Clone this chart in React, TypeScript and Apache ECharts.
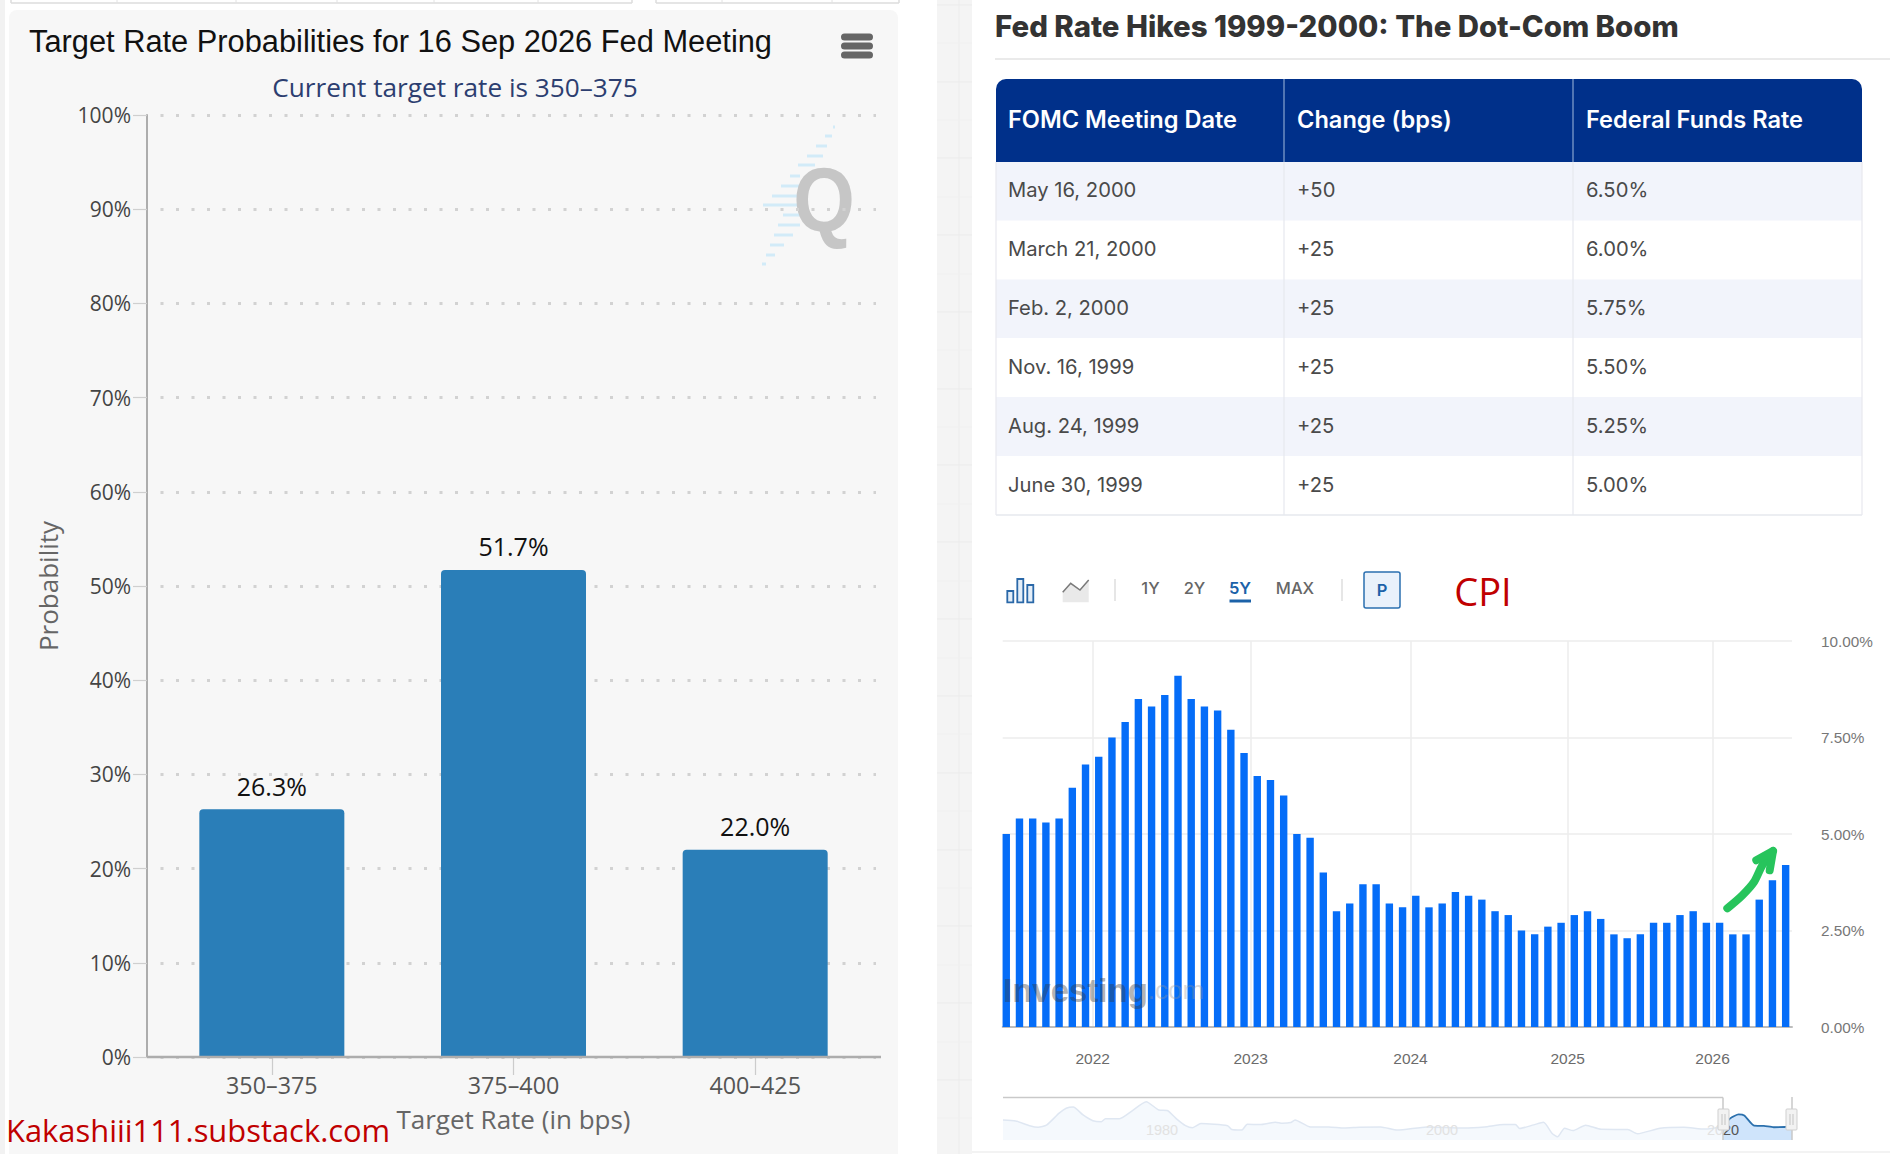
import React, { useEffect, useRef } from "react";
import * as echarts from "echarts";

// ---------- data ----------
const chartTitle = "Target Rate Probabilities for 16 Sep 2026 Fed Meeting";
const chartSubtitle = "Current target rate is 350–375";
const rateBuckets = ["350–375", "375–400", "400–425"];
const probabilities = [26.3, 51.7, 22.0];

const tableTitle = "Fed Rate Hikes 1999-2000: The Dot-Com Boom";
const tableHeaders = ["FOMC Meeting Date", "Change (bps)", "Federal Funds Rate"];
const meetingDates = ["May 16, 2000", "March 21, 2000", "Feb. 2, 2000", "Nov. 16, 1999", "Aug. 24, 1999", "June 30, 1999"];
const rateChanges = ["+50", "+25", "+25", "+25", "+25", "+25"];
const fundsRates = ["6.50%", "6.00%", "5.75%", "5.50%", "5.25%", "5.00%"];

const cpiValues = [
  5.0, 5.4, 5.4, 5.3, 5.4, 6.2, 6.8, 7.0, 7.5, 7.9,
  8.5, 8.3, 8.6, 9.1, 8.5, 8.3, 8.2, 7.7, 7.1, 6.5,
  6.4, 6.0, 5.0, 4.9, 4.0, 3.0, 3.2, 3.7, 3.7, 3.2,
  3.1, 3.4, 3.1, 3.2, 3.5, 3.4, 3.3, 3.0, 2.9, 2.5,
  2.4, 2.6, 2.7, 2.9, 3.0, 2.8, 2.4, 2.3, 2.4, 2.7,
  2.7, 2.9, 3.0, 2.7, 2.7, 2.4, 2.4, 3.3, 3.8, 4.2,
];
const cpiYearLabels = ["2022", "2023", "2024", "2025", "2026"];
const cpiYearSlots = [6.54, 18.5, 30.6, 42.5, 53.47];
const rangeButtons = ["1Y", "2Y", "5Y", "MAX"];

const historyAll: [number, number][] = [
  [1968.6, 7.7], [1969.5, 7.3], [1970.5, 5.5], [1971.1, 4.9], [1971.7, 5.7], [1972.6, 10.3], [1973.1, 12.2],
  [1973.6, 12.7], [1974.3, 9.6], [1975, 7.4], [1975.6, 7.0], [1975.9, 8.2], [1976.9, 8.2], [1977.8, 11.2],
  [1978.8, 14.7], [1979.7, 11.5], [1980.3, 11.3], [1981, 7.9], [1981.6, 5.5], [1982.1, 4.7], [1982.7, 6.3],
  [1984.6, 5.5], [1984.9, 4.0], [1985.6, 3.8], [1986, 6.0], [1986.9, 5.9], [1988, 6.8], [1988.5, 6.4],
  [1989.1, 6.7], [1989.4, 7.7], [1990.5, 5.0], [1991.8, 5.0], [1992.9, 4.6], [1994, 4.9], [1995.5, 5.0],
  [1996.7, 3.8], [1998.8, 5.0], [2001.4, 4.6], [2002.9, 5.0], [2004.3, 5.9], [2005.1, 5.9], [2005.4, 4.4],
  [2006.4, 5.8], [2007.1, 6.8], [2007.7, 2.6], [2008.1, 1.2], [2008.6, 4.5], [2009.2, 3.6], [2010.1, 5.7],
  [2011.2, 4.1], [2013.1, 4.0], [2013.8, 2.4], [2015.4, 4.5], [2017.1, 4.9], [2018.6, 4.2], [2019.9, 5.1],
];
const historySelected: [number, number][] = [
  [2019.9, 5.1], [2020.4, 8.3], [2021, 9.8], [2021.4, 9.4], [2022.1, 5.5], [2022.8, 5.4], [2023.5, 4.9], [2024.3, 5.0], [2024.8, 5.1],
];

// Q logo stripes: [x0, x1, y]
const logoStripes = [
  [833, 835, 127], [825, 832, 136], [816, 827, 146], [807, 823, 156], [798, 815, 165], [790, 800, 176],
  [781, 800, 186], [772, 800, 196], [763, 798, 205], [783, 800, 215], [778, 800, 225], [774, 793, 235],
  [770, 784, 245], [766, 775, 255], [762, 766, 264],
];
const topBoxDividers = [117, 236, 337, 434, 538, 722, 832];
const stripLinesY = [5, 43, 82, 120, 158, 197, 235, 274, 312, 350, 389, 427, 465, 504, 542, 581, 619, 658, 696, 734, 773, 811, 850, 888, 926, 965, 1003, 1042, 1080, 1118];

// ---------- fonts / colours ----------
const OPEN = '"Open Sans", sans-serif';
const ARIAL = '"Liberation Sans", Arial, sans-serif';
const INTER = 'Inter, sans-serif';
const RED = "#c00000";

const txt = (x: number, y: number, text: string, o: any = {}, z = 40) => ({
  type: "text",
  z,
  silent: true,
  x,
  y,
  style: {
    text,
    x: 0,
    y: 0,
    fill: o.fill ?? "#444",
    fontFamily: o.fontFamily ?? OPEN,
    fontSize: o.fontSize ?? 20,
    fontWeight: o.fontWeight ?? 400,
    textAlign: o.textAlign ?? "left",
    textVerticalAlign: "middle",
  },
  ...(o.scaleX ? { scaleX: o.scaleX } : {}),
});
const box = (x: number, y: number, width: number, height: number, fill: string, z = -5, r: any = 0, extra: any = {}) => ({
  type: "rect",
  z,
  silent: true,
  shape: { x, y, width, height, r },
  style: { fill, ...extra },
});
const seg = (x1: number, y1: number, x2: number, y2: number, stroke: string, lineWidth = 1, z = -4) => ({
  type: "line",
  z,
  silent: true,
  shape: { x1, y1, x2, y2 },
  style: { stroke, lineWidth },
});

function buildGraphic() {
  const g: any[] = [];
  // page furniture
  g.push(box(0, 0, 5, 1154, "#f2f2f2", -9));
  g.push(box(937, 0, 35, 1154, "#f4f4f4", -9));
  g.push(seg(959, 0, 959, 1154, "#ececec", 1, -8));
  stripLinesY.forEach((y, i) => g.push(seg(937, y, 972, y, i % 2 ? "#f0f0f0" : "#ebebeb", 1, -8)));
  g.push(box(9, 10, 889, 1144, "#f7f7f7", -7, [8, 8, 0, 0]));
  g.push(seg(11, 3, 632, 3, "#dcdcdc", 1.5));
  g.push(seg(656, 3, 899, 3, "#dcdcdc", 1.5));
  [11, 632, 656, 899].forEach((x) => g.push(seg(x, 0, x, 3, "#dcdcdc", 1.5)));
  topBoxDividers.forEach((x) => g.push(seg(x, 0, x, 3, "#e2e2e2", 1)));
  g.push(seg(972, 1152, 1890, 1152, "#efefef", 1.5));

  // left chart text
  g.push(txt(29, 41, chartTitle, { fontFamily: ARIAL, fontSize: 30.8, fill: "#111" }));
  g.push(txt(455, 86.5, chartSubtitle, { fontSize: 26.2, fill: "#2c3e70", textAlign: "center" }));
  [37, 46, 55].forEach((y) => g.push(box(841, y - 3.5, 32, 7, "#666", 40, 3.5)));
  g.push(seg(147, 1057, 881, 1057, "#adadad", 2.5, 30));

  // logo
  logoStripes.forEach(([a, b, y]) => g.push(box(a, y - 1.5, b - a, 3, "#d2ebf8", -2)));
  g.push(txt(824, 200, "Q", { fontFamily: ARIAL, fontWeight: 700, fontSize: 90, fill: "#c6c6c6", textAlign: "center", scaleX: 0.88 }, -1));

  // signature
  g.push(txt(6, 1130, "Kakashiii111.substack.com", { fontSize: 30.9, fill: RED }));

  // table
  g.push(txt(995, 26, tableTitle, { fontFamily: INTER, fontWeight: 800, fontSize: 29.4, fill: "#333" }));
  g.push(seg(995, 59, 1890, 59, "#e3e3e3", 1.5));
  const rowY = [162, 220.5, 279.5, 338, 397, 456, 515];
  g.push(box(996, 79, 866, 83, "#00308a", 0, [10, 10, 0, 0]));
  [1284, 1573].forEach((x) => g.push(seg(x, 79, x, 162, "#6d8cc0", 1.5, 1)));
  const cellX = [1008, 1297, 1586];
  tableHeaders.forEach((h, i) => g.push(txt(cellX[i], 119, h, { fontFamily: INTER, fontWeight: 600, fontSize: 23.6, fill: "#fff" })));
  [meetingDates, rateChanges, fundsRates].forEach((col, c) =>
    col.forEach((s, r) => g.push(txt(cellX[c], (rowY[r] + rowY[r + 1]) / 2 - 1.5, s, { fontFamily: INTER, fontSize: 20.2, fill: "#4a4a4a" })))
  );
  for (let r = 0; r < 6; r += 2) g.push(box(996, rowY[r], 866, rowY[r + 1] - rowY[r], "#f2f4fb", -3));
  [1284, 1573].forEach((x) => g.push(seg(x, 162, x, 515, "#e6e8ee", 1.2, -2)));
  g.push(seg(996, 162, 996, 515, "#e8e8ee", 1.2, -2));
  g.push(seg(1862, 162, 1862, 515, "#e8e8ee", 1.2, -2));
  g.push(seg(996, 515, 1862, 515, "#e6e8ee", 1.5, -2));

  // toolbar
  [[1007.3, 591, 6, 11.3], [1017.3, 579, 6, 23.3], [1027.3, 585, 6, 17.3]].forEach(([x, y, w, h]) =>
    g.push(box(x, y, w, h, "#e4eef8", 3, 0, { stroke: "#2a68a8", lineWidth: 1.8 }))
  );
  g.push({ type: "polygon", z: 3, silent: true, shape: { points: [[1062.7, 592.3], [1070.7, 583.3], [1080, 590], [1088.7, 580], [1088.7, 602.3], [1062.7, 602.3]] }, style: { fill: "#e9e9e9" } });
  g.push({ type: "polyline", z: 3, silent: true, shape: { points: [[1062.7, 592.3], [1070.7, 583.3], [1080, 590], [1088.7, 580]] }, style: { stroke: "#7a7a7a", lineWidth: 1.5, fill: "none" } });
  [1115, 1342].forEach((x) => g.push(seg(x, 579, x, 601, "#dedede", 1.5)));
  const btnX = [1150.5, 1194.5, 1240, 1295];
  rangeButtons.forEach((b, i) =>
    g.push(txt(btnX[i], 588, b, { fontFamily: INTER, fontSize: 16.5, fontWeight: i === 2 ? 600 : 500, fill: i === 2 ? "#1c62a8" : "#666", textAlign: "center" }))
  );
  g.push(seg(1229.5, 601, 1251, 601, "#1c62a8", 3));
  g.push(box(1364, 572, 36, 36, "#e9f1fb", 3, 2, { stroke: "#2a6fb0", lineWidth: 1.5 }));
  g.push(txt(1382, 590, "P", { fontFamily: INTER, fontSize: 16.5, fontWeight: 600, fill: "#1c62a8", textAlign: "center" }));
  g.push(txt(1483, 591, "CPI", { fontFamily: OPEN, fontSize: 38, fill: RED, textAlign: "center" }));

  // investing watermark
  g.push({
    type: "text", z: 45, silent: true, x: 1003, y: 990,
    style: {
      text: "{a|Investing}{b|.com}", x: 0, y: 0, textVerticalAlign: "middle",
      rich: {
        a: { fontFamily: ARIAL, fontWeight: 700, fontSize: 33, fill: "rgba(55,55,55,0.4)" },
        b: { fontFamily: ARIAL, fontSize: 26, fill: "rgba(150,150,150,0.35)" },
      },
    },
  });

  // arrow
  g.push({ type: "polyline", z: 46, silent: true, shape: { points: [[1727.3, 908.3], [1742.3, 895.3], [1754, 882], [1762.3, 865.3], [1773, 851]], smooth: 0.3 }, style: { stroke: "#27c45c", lineWidth: 8, lineCap: "round", lineJoin: "round", fill: "none" } });
  g.push({ type: "polyline", z: 46, silent: true, shape: { points: [[1756.3, 860.3], [1773, 851], [1769.7, 870.3]] }, style: { stroke: "#27c45c", lineWidth: 8, lineCap: "round", lineJoin: "round", fill: "none" } });

  // navigator
  g.push(seg(1003, 1097.5, 1723, 1097.5, "#c9c9c9", 1.5, 4));
  g.push(seg(1723, 1097.5, 1723, 1140, "#c9c9c9", 1.5, 4));
  g.push(seg(1792, 1097, 1792, 1140, "#c9c9c9", 1.5, 4));
  g.push(txt(1162, 1130, "1980", { fontFamily: ARIAL, fontSize: 14.5, fill: "#e2e2e2", textAlign: "center" }));
  g.push(txt(1442, 1130, "2000", { fontFamily: ARIAL, fontSize: 14.5, fill: "#e2e2e2", textAlign: "center" }));
  g.push({
    type: "text", z: 41, silent: true, x: 1723, y: 1130,
    style: {
      text: "{a|20}{b|20}", x: 0, y: 0, textAlign: "center", textVerticalAlign: "middle",
      rich: {
        a: { fontFamily: ARIAL, fontSize: 14.5, fill: "#e2e2e2" },
        b: { fontFamily: ARIAL, fontSize: 14.5, fill: "#555" },
      },
    },
  });
  [1723.5, 1791.5].forEach((x) => {
    g.push(box(x - 5.5, 1109, 11, 21, "#f2f2f2", 42, 1, { stroke: "#cfcfcf", lineWidth: 1 }));
    [x - 1.5, x + 1.5].forEach((lx) => g.push(seg(lx, 1114, lx, 1125, "#c4c4c4", 1, 43)));
  });
  return g;
}

const emptyMiniAxis = { show: false };

export default function App() {
  const ref = useRef<HTMLDivElement>(null);
  useEffect(() => {
    document.body.style.margin = "0";
    const chart = echarts.init(ref.current!, undefined, { renderer: "svg" });
    chart.setOption({
      animation: false,
      backgroundColor: "#ffffff",
      graphic: { elements: buildGraphic() },
      grid: [
        { left: 151, top: 115, width: 725, height: 942, containLabel: false },
        { left: 1002.7, top: 641, width: 789.3, height: 386, containLabel: false },
        { left: 1003, top: 1097, width: 789, height: 43, containLabel: false },
      ],
      xAxis: [
        {
          gridIndex: 0,
          type: "category",
          data: rateBuckets,
          name: "Target Rate (in bps)",
          nameLocation: "middle",
          nameGap: 49,
          nameTextStyle: { fontFamily: OPEN, fontSize: 26, color: "#666" },
          axisLine: { show: false },
          axisTick: { show: true, alignWithLabel: true, length: 18, lineStyle: { color: "#ccc", width: 1.2 } },
          axisLabel: { fontFamily: OPEN, fontSize: 23.3, color: "#555", margin: 16 },
          splitLine: { show: false },
        },
        {
          gridIndex: 1,
          type: "value",
          min: -0.27,
          max: 59.48,
          axisLine: { show: true, lineStyle: { color: "#bdbdbd", width: 2 } },
          axisTick: { show: false, customValues: cpiYearSlots },
          axisLabel: {
            customValues: cpiYearSlots,
            formatter: (v: number) => cpiYearLabels[cpiYearSlots.indexOf(v)] ?? "",
            fontFamily: ARIAL,
            fontSize: 15.5,
            color: "#6b6b6b",
            margin: 23,
          },
          splitLine: { show: true, lineStyle: { color: "#ececec", width: 1.5 } },
        },
        { gridIndex: 2, type: "value", min: 1968.6, max: 2024.8, ...emptyMiniAxis },
      ],
      yAxis: [
        {
          gridIndex: 0,
          type: "value",
          min: 0,
          max: 100,
          interval: 10,
          offset: 4,
          name: "Probability",
          nameLocation: "middle",
          nameRotate: 90,
          nameGap: 86.5,
          nameTextStyle: { fontFamily: OPEN, fontSize: 26, color: "#666" },
          axisLine: { show: true, lineStyle: { color: "#adadad", width: 2 } },
          axisTick: { show: true, length: 14, lineStyle: { color: "#cfcfcf", width: 1.2 } },
          axisLabel: { formatter: "{value}%", fontFamily: OPEN, fontSize: 21, color: "#444", margin: 16, padding: [3, 0, 0, 0] },
          splitLine: { show: true, lineStyle: { color: "#d2d2d2", width: 3, type: [3, 12.5], dashOffset: 5.5 } },
        },
        {
          gridIndex: 1,
          type: "value",
          position: "right",
          min: 0,
          max: 10,
          interval: 2.5,
          axisLine: { show: false },
          axisTick: { show: false },
          axisLabel: { formatter: (v: number) => v.toFixed(2) + "%", fontFamily: ARIAL, fontSize: 15.3, color: "#777", margin: 29, padding: [0, 0, 2, 0] },
          splitLine: { show: true, lineStyle: { color: "#ececec", width: 1.5 } },
        },
        { gridIndex: 2, type: "value", min: 0, max: 16.5, ...emptyMiniAxis },
      ],
      series: [
        {
          type: "bar",
          xAxisIndex: 0,
          yAxisIndex: 0,
          data: probabilities,
          barWidth: 145,
          itemStyle: { color: "#2a7eb8", borderRadius: [4, 4, 0, 0] },
          label: {
            show: true,
            position: "top",
            distance: 11,
            formatter: (p: any) => p.value.toFixed(1) + "%",
            fontFamily: OPEN,
            fontSize: 25,
            color: "#111",
          },
        },
        {
          type: "bar",
          xAxisIndex: 1,
          yAxisIndex: 1,
          data: cpiValues.map((v, i) => [i, v]),
          barWidth: 7.4,
          itemStyle: { color: "#056df8" },
        },
        {
          type: "line",
          xAxisIndex: 2,
          yAxisIndex: 2,
          data: historyAll,
          symbol: "none",
          smooth: 0.2,
          lineStyle: { color: "#dfe7f2", width: 1.5 },
          areaStyle: { color: "#f5f9fd", opacity: 1 },
        },
        {
          type: "line",
          xAxisIndex: 2,
          yAxisIndex: 2,
          data: historySelected,
          symbol: "none",
          smooth: 0.2,
          lineStyle: { color: "#2b70ad", width: 1.8 },
          areaStyle: { color: "#cfe4fb", opacity: 1 },
        },
      ],
    });
    return () => chart.dispose();
  }, []);
  return <div ref={ref} style={{ position: "absolute", left: 0, top: 0, width: 1890, height: 1154 }} />;
}
